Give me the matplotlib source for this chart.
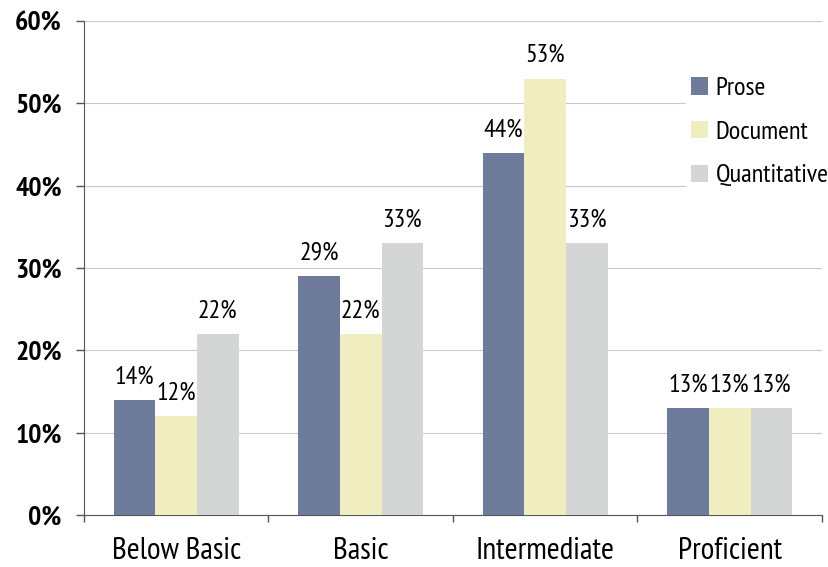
import matplotlib
matplotlib.use("Agg")
import matplotlib.pyplot as plt
import numpy as np

plt.rcParams['font.family'] = ['PT Sans Narrow', 'DejaVu Sans']

categories = ["Below Basic", "Basic", "Intermediate", "Proficient"]
series = ["Prose", "Document", "Quantitative"]
prose = [14, 29, 44, 13]
document = [12, 22, 53, 13]
quantitative = [22, 33, 33, 13]
colors = ["#6e7b9b", "#f0edc0", "#d4d6d6"]
yticks = [0, 10, 20, 30, 40, 50, 60]

fig = plt.figure(figsize=(8.29, 5.67), dpi=100)
ax = fig.add_axes([84/829, 1-515/567, (822-84)/829, (515-21)/567])

x = np.arange(len(categories))
w = 0.225
for i, (vals, name, c) in enumerate(zip([prose, document, quantitative], series, colors)):
    pos = x + (i - 1) * w
    ax.bar(pos, vals, width=w, color=c, label=name, zorder=3, linewidth=0)
    for p, v in zip(pos, vals):
        ax.text(p, v + 1.4, f"{v}%", ha="center", va="bottom", fontsize=18.5, zorder=4)

ax.set_xlim(-0.5, len(categories) - 0.5)
ax.set_ylim(0, 60)
ax.set_yticks(yticks)
ax.set_yticklabels([f"{t}%" for t in yticks], fontsize=20, fontweight="bold")
ax.yaxis.grid(True, color="#c8c8c8", linewidth=0.8, zorder=0)
ax.tick_params(axis="y", length=6, width=1, color="#555555", pad=10)

ax.set_xticks(np.arange(-0.5, len(categories), 1.0))
ax.set_xticklabels([])
ax.set_xticks(x, minor=True)
ax.set_xticklabels(categories, minor=True, fontsize=22.5)
ax.tick_params(axis="x", which="major", length=5, width=1, color="#555555")
ax.tick_params(axis="x", which="minor", length=0, pad=16)

for s in ["top", "right"]:
    ax.spines[s].set_visible(False)
ax.spines["left"].set_color("#555555")
ax.spines["bottom"].set_color("#555555")

leg = ax.legend(loc="upper left", bbox_to_anchor=(686/829, 1-72/567), bbox_transform=fig.transFigure,
                frameon=True, fontsize=19, handlelength=0.62, handleheight=0.62,
                labelspacing=0.78, handletextpad=0.3, borderpad=0.2, borderaxespad=0)
leg.get_frame().set_edgecolor("white")
leg.get_frame().set_facecolor("white")
leg.get_frame().set_alpha(1)
leg.get_frame().set_boxstyle("square", pad=0)
leg.set_zorder(5)

fig.savefig("out.png", dpi=100)
